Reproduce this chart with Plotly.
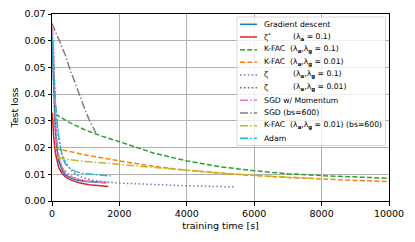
import plotly.graph_objects as go

# ---------------- data ----------------
gd_t = [0, 50, 100, 150, 200, 300, 400, 600, 800, 1000, 1300, 1600]
gd_v = [0.061, 0.040, 0.027, 0.019, 0.015, 0.0115, 0.0098, 0.0084, 0.0077, 0.0073, 0.0070, 0.0068]

zstar_t = [10, 50, 100, 150, 200, 300, 400, 550, 800, 1100, 1400, 1670]
zstar_v = [0.033, 0.024, 0.018, 0.0145, 0.0125, 0.0103, 0.0090, 0.0079, 0.0068, 0.0061, 0.0057, 0.0054]

kfac1_t = [100, 500, 1000, 1500, 2000, 3000, 4000, 5000, 6000, 7000, 8000, 9000, 10000]
kfac1_v = [0.0325, 0.0295, 0.0265, 0.0242, 0.0222, 0.0180, 0.0150, 0.0128, 0.0113, 0.0102, 0.0095, 0.0089, 0.0085]

kfac2_t = [100, 500, 1000, 2000, 3000, 4000, 5000, 6000, 7000, 8000, 9000, 10000]
kfac2_v = [0.0197, 0.0185, 0.0172, 0.0150, 0.0130, 0.0115, 0.0104, 0.0095, 0.0088, 0.0082, 0.0077, 0.0073]

zeta1_t = [40, 100, 200, 300, 400, 550, 700, 900, 1200, 1600, 2000, 3000, 4000, 5000, 5400]
zeta1_v = [0.060, 0.035, 0.023, 0.0175, 0.0145, 0.0118, 0.0100, 0.0088, 0.0078, 0.0071, 0.0067, 0.0061, 0.0057, 0.0054, 0.0053]

zeta2_t = [30, 100, 200, 300, 450, 600, 800, 1000, 1300, 1700]
zeta2_v = [0.050, 0.025, 0.016, 0.0125, 0.0103, 0.0090, 0.0081, 0.0076, 0.0072, 0.0069]

mom_t = [20, 60, 100, 150, 200, 300, 400, 600, 800, 1000, 1300, 1600]
mom_v = [0.065, 0.045, 0.032, 0.022, 0.017, 0.0125, 0.0105, 0.0088, 0.0080, 0.0075, 0.0071, 0.0068]

sgd_t = [0, 100, 200, 300, 400, 500, 600, 700, 800, 900, 1000, 1100, 1200, 1300]
sgd_v = [0.0665, 0.0635, 0.0605, 0.0575, 0.0545, 0.0505, 0.0470, 0.0435, 0.0400, 0.0365, 0.0335, 0.0305, 0.0280, 0.0255]

kfacbs_t = [150, 500, 1000, 2000, 3000, 4000, 5000, 6000, 7000, 8000]
kfacbs_v = [0.0162, 0.0155, 0.0148, 0.0137, 0.0125, 0.0114, 0.0104, 0.0096, 0.0089, 0.0083]

adam_t = [0, 50, 100, 150, 200, 300, 400, 550, 700, 900, 1200, 1500, 1750]
adam_v = [0.062, 0.048, 0.038, 0.030, 0.024, 0.0168, 0.0138, 0.0120, 0.0110, 0.0104, 0.0099, 0.0096, 0.0094]

x_ticks = [0, 2000, 4000, 6000, 8000, 10000]
y_ticks = [0.00, 0.01, 0.02, 0.03, 0.04, 0.05, 0.06, 0.07]

LA = "λ<sub><b>a</b></sub>"
LG = "λ<sub><b>g</b></sub>"
series = [
    (gd_t, gd_v, "Gradient descent", "", "#1f77b4", "solid"),
    (zstar_t, zstar_v, "ζ<sup>*</sup>", f"({LA} = 0.1)", "#d62728", "solid"),
    (kfac1_t, kfac1_v, f"K-FAC  ({LA},{LG} = 0.1)", "", "#2ca02c", "dash"),
    (kfac2_t, kfac2_v, f"K-FAC  ({LA},{LG} = 0.01)", "", "#ff7f0e", "dash"),
    (zeta1_t, zeta1_v, "ζ", f"({LA},{LG} = 0.1)", "#9467bd", "dot"),
    (zeta2_t, zeta2_v, "ζ", f"({LA},{LG} = 0.01)", "#8c564b", "dot"),
    (mom_t, mom_v, "SGD w/ Momentum", "", "#e377c2", "dashdot"),
    (sgd_t, sgd_v, "SGD (bs=600)", "", "#7f7f7f", "dashdot"),
    (kfacbs_t, kfacbs_v, f"K-FAC  ({LA},{LG} = 0.01) (bs=600)", "", "#bcbd22", "dashdot"),
    (adam_t, adam_v, "Adam", "", "#17becf", "dashdot"),
]

DASH = {"solid": "solid", "dash": "5px,2.3px", "dot": "1.5px,2.4px", "dashdot": "8px,2.2px,1.5px,2.2px"}

FONT = "DejaVu Sans"
W, H = 415, 242
L, R, T, B = 52, 26, 14, 41
PW, PH = W - L - R, H - T - B


def px(x):
    return (x - L) / PW


def py(y):
    return (H - B - y) / PH


fig = go.Figure()
for t, v, name, col2, color, dash in series:
    fig.add_trace(go.Scatter(x=t, y=v, mode="lines", name=name, showlegend=False,
                             line=dict(color=color, width=1.5, dash=DASH[dash])))

shapes = [dict(type="rect", xref="paper", yref="paper", x0=px(237), x1=px(385.5), y0=py(145.5), y1=py(17),
               fillcolor="rgba(255,255,255,0.8)", line=dict(color="#d0d0d0", width=0.8), layer="above")]
annotations = []
row0, dy = 24.3, 12.67
for i, (t, v, name, col2, color, dash) in enumerate(series):
    yy = row0 + i * dy
    shapes.append(dict(type="line", xref="paper", yref="paper", x0=px(240), x1=px(257), y0=py(yy), y1=py(yy),
                       line=dict(color=color, width=1.5, dash=DASH[dash]), layer="above"))
    annotations.append(dict(xref="paper", yref="paper", x=px(262), y=py(yy), text=name, showarrow=False,
                            xanchor="left", yanchor="middle", font=dict(family=FONT, size=7.7, color="black")))
    if col2:
        annotations.append(dict(xref="paper", yref="paper", x=px(290.5), y=py(yy), text=col2, showarrow=False,
                                xanchor="left", yanchor="middle", font=dict(family=FONT, size=7.7, color="black")))

fig.update_layout(
    width=W, height=H,
    margin=dict(l=L, r=R, t=T, b=B, autoexpand=False),
    paper_bgcolor="white", plot_bgcolor="white",
    font=dict(family=FONT, size=9.5, color="black"),
    shapes=shapes, annotations=annotations,
    showlegend=False,
)
fig.update_xaxes(range=[0, 10000], tickvals=x_ticks, ticktext=[str(v) for v in x_ticks],
                 showgrid=True, gridcolor="#b0b0b0", gridwidth=0.8, automargin=False,
                 showline=True, linecolor="black", linewidth=1, mirror=True,
                 ticks="outside", ticklen=3.5, tickcolor="black", zeroline=False,
                 title=dict(text="training time [s]", font=dict(size=9.5), standoff=4))
fig.update_yaxes(range=[0, 0.07], tickvals=y_ticks, ticktext=[f"{v:.2f}" for v in y_ticks],
                 showgrid=True, gridcolor="#b0b0b0", gridwidth=0.8, automargin=False,
                 showline=True, linecolor="black", linewidth=1, mirror=True,
                 ticks="outside", ticklen=3.5, tickcolor="black", zeroline=False,
                 title=dict(text="Test loss", font=dict(size=9.5), standoff=4))

fig.write_html("out.html", config={"displayModeBar": False},
               post_script="document.body.style.margin='0px';document.body.style.overflow='hidden';")
